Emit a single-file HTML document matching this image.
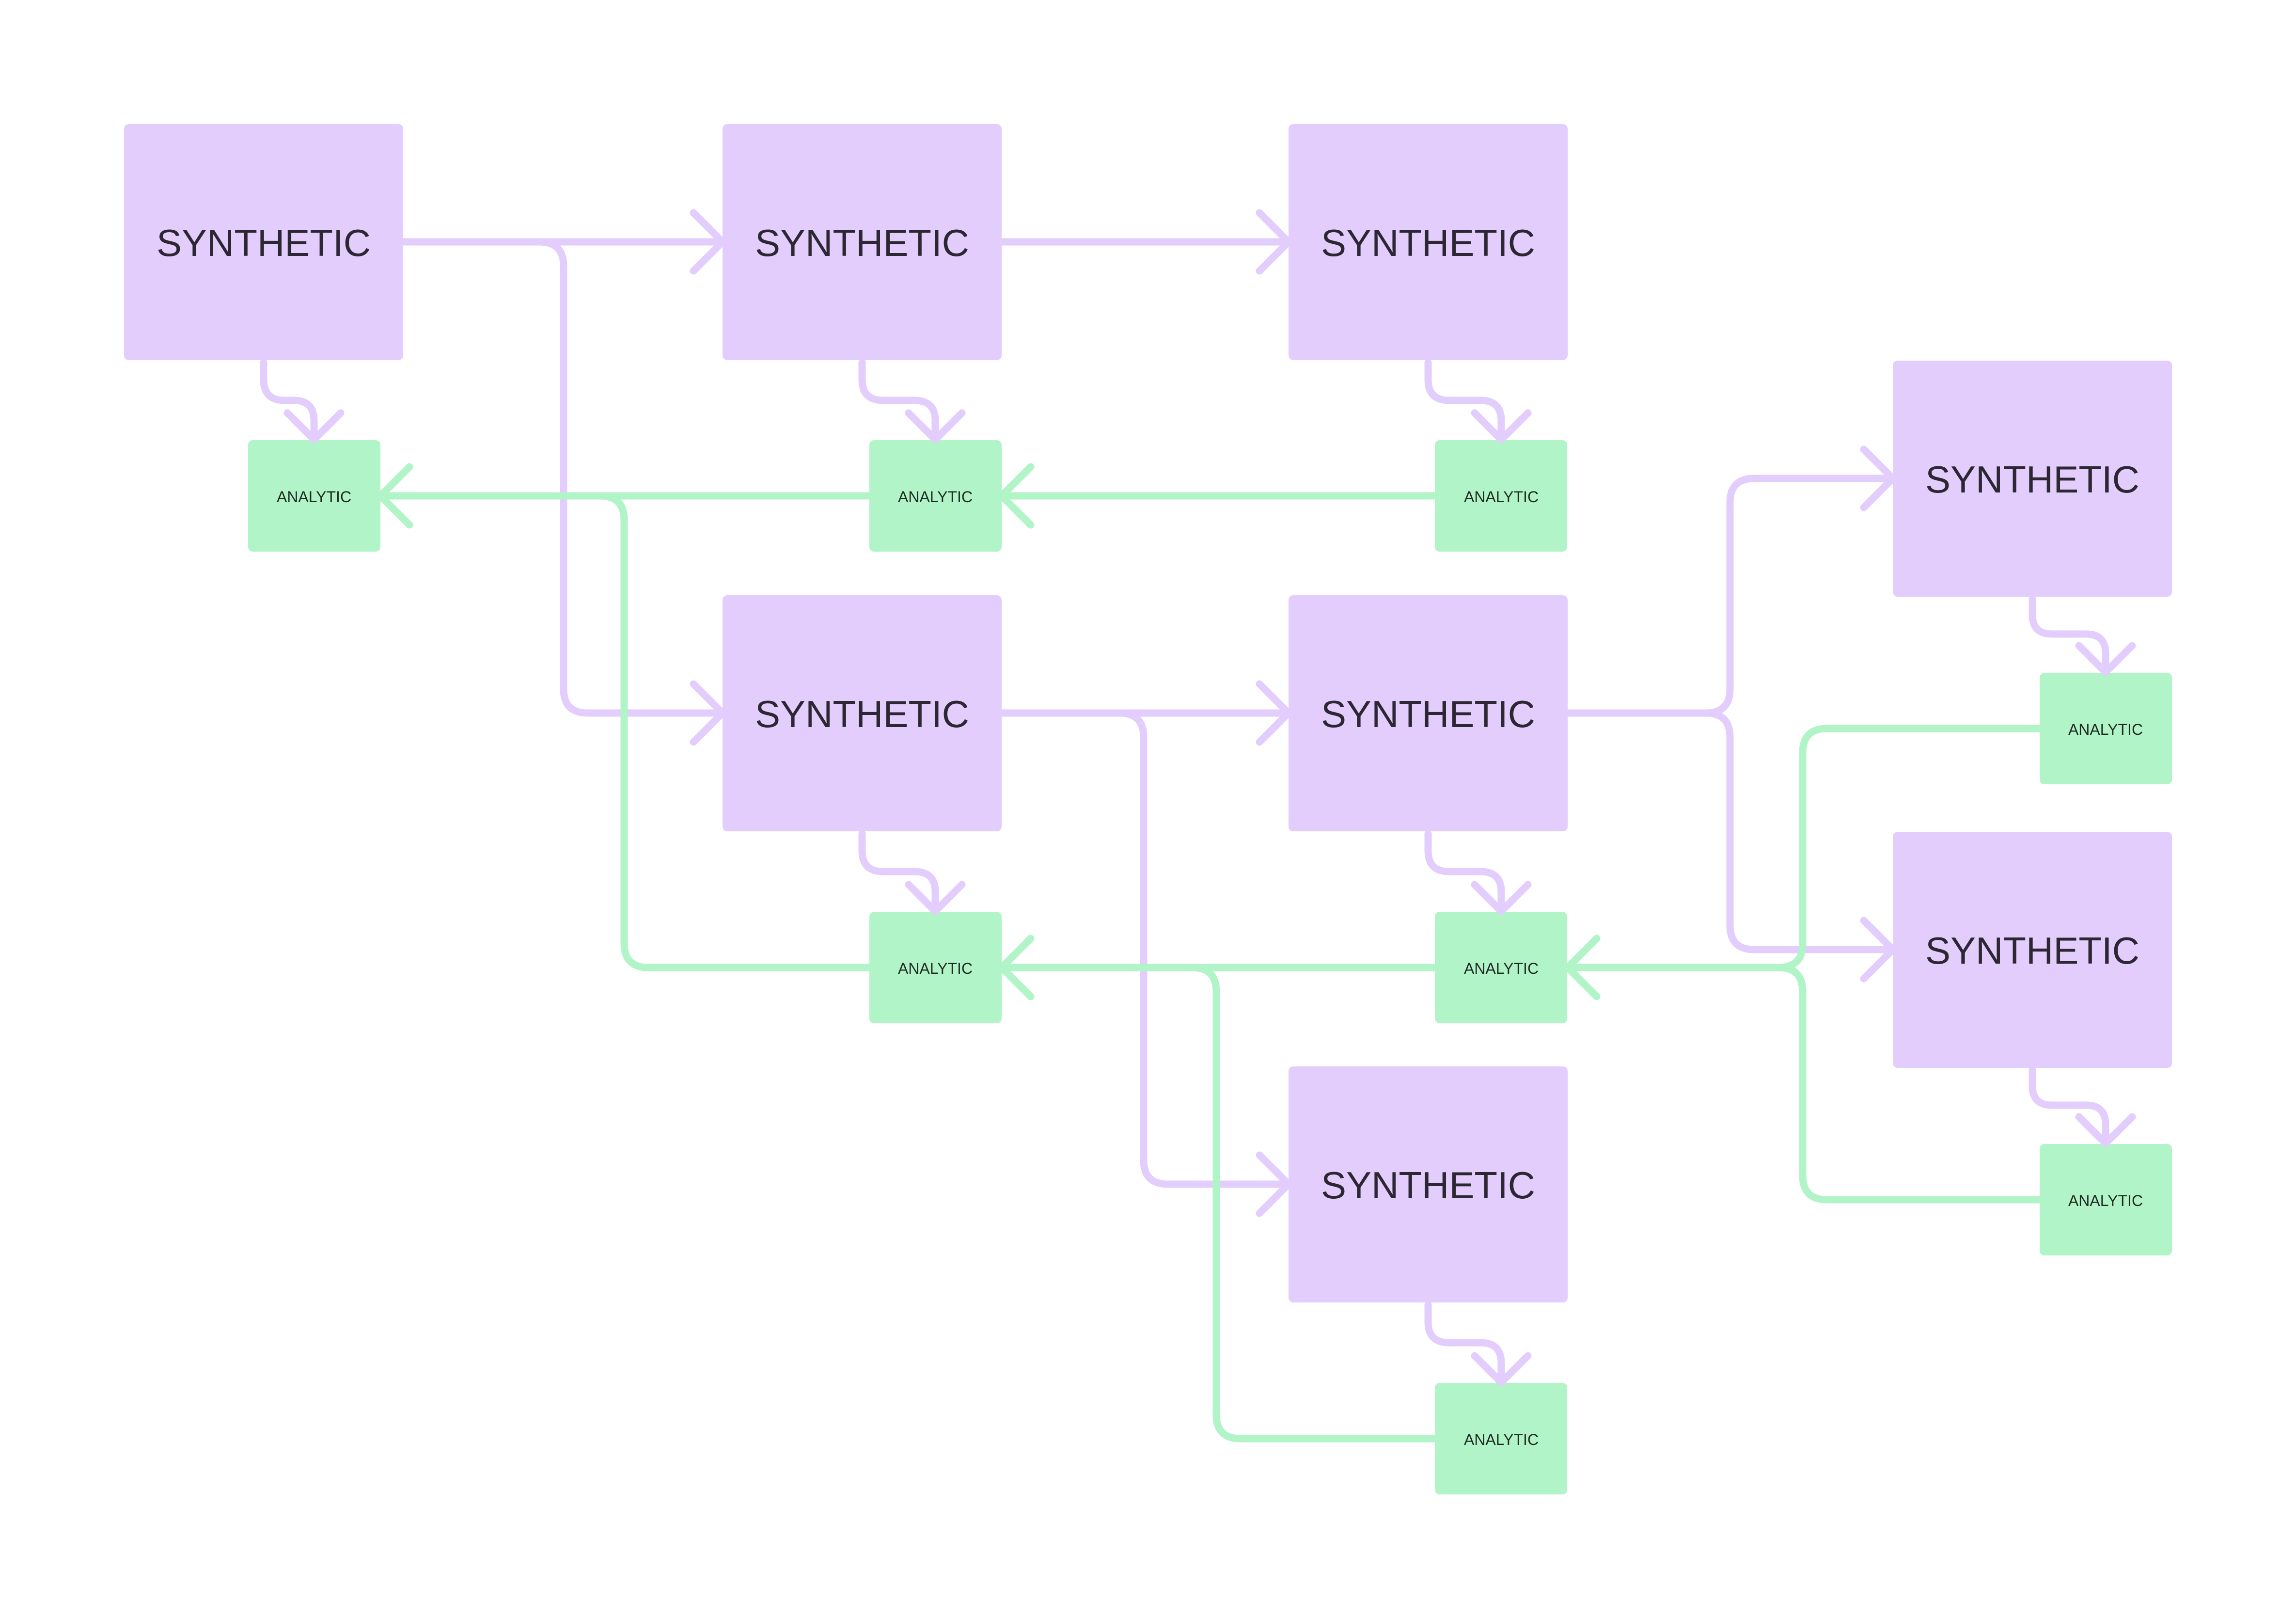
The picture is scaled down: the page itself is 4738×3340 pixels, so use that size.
<!DOCTYPE html>
<html><head><meta charset="utf-8"><style>
html,body{margin:0;padding:0;background:#fff;}
svg{display:block;}
.s{fill:#e3cdfd;}
.a{fill:#b0f4c8;}
.ts{font-family:"Liberation Sans",sans-serif;font-size:78px;fill:#2d2633;text-anchor:middle;dominant-baseline:central;}
.ta{font-family:"Liberation Sans",sans-serif;font-size:32px;fill:#1f2a22;text-anchor:middle;dominant-baseline:central;}
.p{fill:none;stroke:#e3cdfd;stroke-width:15;stroke-linecap:round;stroke-linejoin:round;}
.g{fill:none;stroke:#b0f4c8;stroke-width:15;stroke-linecap:round;stroke-linejoin:round;}
</style></head><body>
<svg width="4738" height="3340" viewBox="0 0 4738 3340" xmlns="http://www.w3.org/2000/svg">
<path class="p" d="M832,499 H1491"/><path class="p" d="M1431,439 L1491,499 L1431,559"/>
<path class="p" d="M1100,499 H1113 Q1163,499 1163,549 V1421 Q1163,1471 1213,1471 H1491"/><path class="p" d="M1431,1411 L1491,1471 L1431,1531"/>
<path class="p" d="M2067,499 H2659"/><path class="p" d="M2599,439 L2659,499 L2599,559"/>
<path class="p" d="M2067,1471 H2659"/><path class="p" d="M2599,1411 L2659,1471 L2599,1531"/>
<path class="p" d="M2300,1471 H2310 Q2360,1471 2360,1521 V2393 Q2360,2443 2410,2443 H2659"/><path class="p" d="M2599,2383 L2659,2443 L2599,2503"/>
<path class="p" d="M3235,1471 H3520 Q3570,1471 3570,1421 V1037 Q3570,987 3620,987 H3906"/><path class="p" d="M3846,927 L3906,987 L3846,1047"/>
<path class="p" d="M3500,1471 H3520 Q3570,1471 3570,1521 V1909 Q3570,1959 3620,1959 H3906"/><path class="p" d="M3846,1899 L3906,1959 L3846,2019"/>
<path class="g" d="M2961,1023 H2067"/><path class="g" d="M2127,963 L2067,1023 L2127,1083"/>
<path class="g" d="M1794,1023 H785"/><path class="g" d="M845,963 L785,1023 L845,1083"/>
<path class="g" d="M1794,1996 H1338 Q1288,1996 1288,1946 V1073 Q1288,1023 1238,1023 H1200"/>
<path class="g" d="M2961,1996 H2067"/><path class="g" d="M2127,1936 L2067,1996 L2127,2056"/>
<path class="g" d="M2961,2968 H2560 Q2510,2968 2510,2918 V2046 Q2510,1996 2460,1996 H2440"/>
<path class="g" d="M4209,1503 H3770 Q3720,1503 3720,1553 V1946 Q3720,1996 3670,1996 H3235"/><path class="g" d="M3295,1936 L3235,1996 L3295,2056"/>
<path class="g" d="M4209,2475 H3770 Q3720,2475 3720,2425 V2046 Q3720,1996 3670,1996 H3650"/>
<rect class="s" x="256" y="256" width="576" height="487" rx="10"/><text class="ts" x="544" y="501">SYNTHETIC</text>
<rect class="s" x="1491" y="256" width="576" height="487" rx="10"/><text class="ts" x="1779" y="501">SYNTHETIC</text>
<rect class="s" x="2659" y="256" width="576" height="487" rx="10"/><text class="ts" x="2947" y="501">SYNTHETIC</text>
<rect class="s" x="1491" y="1228" width="576" height="487" rx="10"/><text class="ts" x="1779" y="1473">SYNTHETIC</text>
<rect class="s" x="2659" y="1228" width="576" height="487" rx="10"/><text class="ts" x="2947" y="1473">SYNTHETIC</text>
<rect class="s" x="2659" y="2200" width="576" height="487" rx="10"/><text class="ts" x="2947" y="2445">SYNTHETIC</text>
<rect class="s" x="3906" y="744" width="576" height="487" rx="10"/><text class="ts" x="4194" y="989">SYNTHETIC</text>
<rect class="s" x="3906" y="1716" width="576" height="487" rx="10"/><text class="ts" x="4194" y="1961">SYNTHETIC</text>
<rect class="a" x="512" y="908" width="273" height="230" rx="10"/><text class="ta" x="648" y="1025">ANALYTIC</text>
<rect class="a" x="1794" y="908" width="273" height="230" rx="10"/><text class="ta" x="1930" y="1025">ANALYTIC</text>
<rect class="a" x="2961" y="908" width="273" height="230" rx="10"/><text class="ta" x="3098" y="1025">ANALYTIC</text>
<rect class="a" x="1794" y="1881" width="273" height="230" rx="10"/><text class="ta" x="1930" y="1998">ANALYTIC</text>
<rect class="a" x="2961" y="1881" width="273" height="230" rx="10"/><text class="ta" x="3098" y="1998">ANALYTIC</text>
<rect class="a" x="2961" y="2853" width="273" height="230" rx="10"/><text class="ta" x="3098" y="2970">ANALYTIC</text>
<rect class="a" x="4209" y="1388" width="273" height="230" rx="10"/><text class="ta" x="4345" y="1505">ANALYTIC</text>
<rect class="a" x="4209" y="2360" width="273" height="230" rx="10"/><text class="ta" x="4345" y="2477">ANALYTIC</text>
<path class="p" d="M544,748 V783 Q544,826 587,826 H606 Q648,826 648,868 V906"/><path class="p" d="M593,852 L648,907 L703,852"/>
<path class="p" d="M1779,748 V783 Q1779,826 1822,826 H1887 Q1930,826 1930,868 V906"/><path class="p" d="M1875,852 L1930,907 L1985,852"/>
<path class="p" d="M2947,748 V783 Q2947,826 2990,826 H3055 Q3098,826 3098,868 V906"/><path class="p" d="M3043,852 L3098,907 L3153,852"/>
<path class="p" d="M1779,1720 V1755 Q1779,1798 1822,1798 H1887 Q1930,1798 1930,1840 V1879"/><path class="p" d="M1875,1825 L1930,1880 L1985,1825"/>
<path class="p" d="M2947,1720 V1755 Q2947,1798 2990,1798 H3055 Q3098,1798 3098,1840 V1879"/><path class="p" d="M3043,1825 L3098,1880 L3153,1825"/>
<path class="p" d="M2947,2692 V2727 Q2947,2770 2990,2770 H3055 Q3098,2770 3098,2812 V2851"/><path class="p" d="M3043,2797 L3098,2852 L3153,2797"/>
<path class="p" d="M4194,1236 V1268 Q4194,1308 4234,1308 H4305 Q4345,1308 4345,1348 V1386"/><path class="p" d="M4290,1332 L4345,1387 L4400,1332"/>
<path class="p" d="M4194,2208 V2240 Q4194,2280 4234,2280 H4305 Q4345,2280 4345,2320 V2358"/><path class="p" d="M4290,2304 L4345,2359 L4400,2304"/>
</svg>
</body></html>
